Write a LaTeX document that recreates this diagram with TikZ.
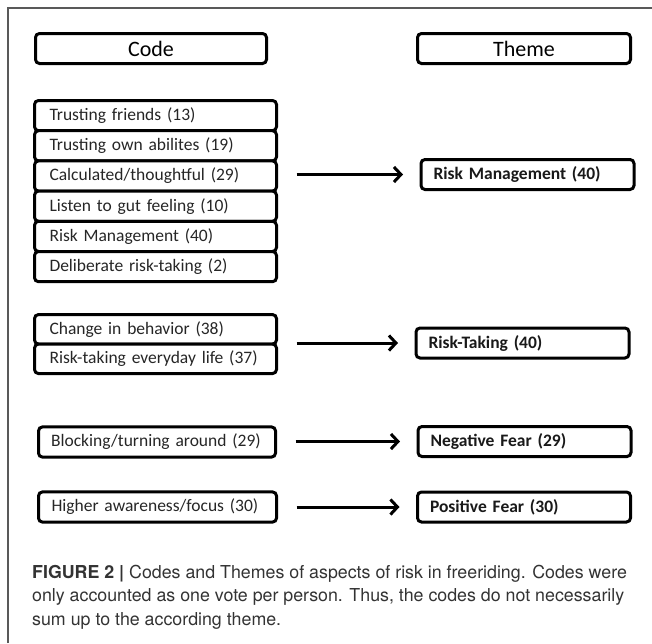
\documentclass[tikz,border=0pt]{standalone}
\usepackage{fontspec}
\setmainfont{Carlito}[WordSpace=0.6]
\newfontfamily\capfont{TeX Gyre Heros}
\usetikzlibrary{arrows.meta, positioning}

\begin{document}
\begin{tikzpicture}[
        x=1pt, y=-1pt,
        node distance=0pt,
        head/.style={rectangle, draw=black, fill=white, line width=3pt, rounded corners=4pt, outer sep=0pt, minimum width=231pt, minimum height=30pt, align=center, font=\fontsize{22}{26}\selectfont},
        code/.style={rectangle, draw=black, fill=white, line width=3pt, rounded corners=4pt, outer sep=0pt, inner xsep=0pt, minimum width=242pt, minimum height=30.2pt, text width=212pt, align=left, text=black!85, font=\fontsize{17.5}{20}\selectfont},
        theme/.style={rectangle, draw=black, fill=white, line width=3pt, rounded corners=4pt, outer sep=0pt, inner xsep=0pt, minimum width=213pt, minimum height=30pt, text width=188pt, align=left, text=black!90, font=\bfseries\fontsize{17.5}{20}\selectfont},
        arrow/.style={-{Straight Barb[length=7pt,width=15pt]}, line width=3pt, shorten <=20pt, shorten >=18pt},
        frame/.style={draw=black!65, line width=1.5pt}
    ]
        \useasboundingbox (0,0) rectangle (652,643);
        \draw[frame] (8,643) -- (8,8) -- (652,8);

        % Headers
        \node[head] (code) at (151,48.5) {Code};
        \node[head, minimum width=213pt] (theme) at (524,48.5) {Theme};

        % Risk Management
        \node[code] (tf) at (155.5,115.6) {Trusting friends (13)};
        \node[code, below=of tf] (toa) {Trusting own abilites (19)};
        \node[code, below=of toa] (cal) {Calculated/thoughtful (29)};
        \node[code, below=of cal] (gut) {Listen to gut feeling (10)};
        \node[code, below=of gut] (rmc) {Risk Management (40)};
        \node[code, below=of rmc] (del) {Deliberate risk-taking (2)};
        \node[theme] (rm) at (527.5,174.5) {Risk Management (40)};

        \draw[arrow] (rm.west -| cal.east) -- (rm.west);

        % Risk-Taking
        \node[code, minimum height=29.5pt] (chg) at (155.5,329.3) {Change in behavior (38)};
        \node[code, minimum height=29.5pt, below=of chg] (edl) {Risk-taking everyday life (37)};
        \node[theme] (rt) at (522.5,343) {Risk-Taking (40)};

        \draw[arrow] (rt.west -| chg.east) -- (rt.west);

        % Negative Fear
        \node[code, minimum width=237pt] (blk) at (157,442) {Blocking/turning around (29)};
        \node[theme] (nf) at (524.5,441.5) {Negative Fear (29)};

        \draw[arrow] (nf.west -| blk.east) -- (nf.west);

        % Positive Fear
        \node[code, minimum width=238pt] (haw) at (157.5,507) {Higher awareness/focus (30)};
        \node[theme] (pf) at (524,507) {Positive Fear (30)};

        \draw[arrow] (pf.west -| haw.east) -- (pf.west);

        % Caption
        \node[anchor=base west, align=left, inner sep=0pt, text=black!80, font=\capfont\fontsize{17.8}{23.5}\selectfont] (cap) at (32,625) {\textbf{FIGURE 2 |} Codes and Themes of aspects of risk in freeriding. Codes were\\only accounted as one vote per person. Thus, the codes do not necessarily\\sum up to the according theme.};
    \end{tikzpicture}
\end{document}
